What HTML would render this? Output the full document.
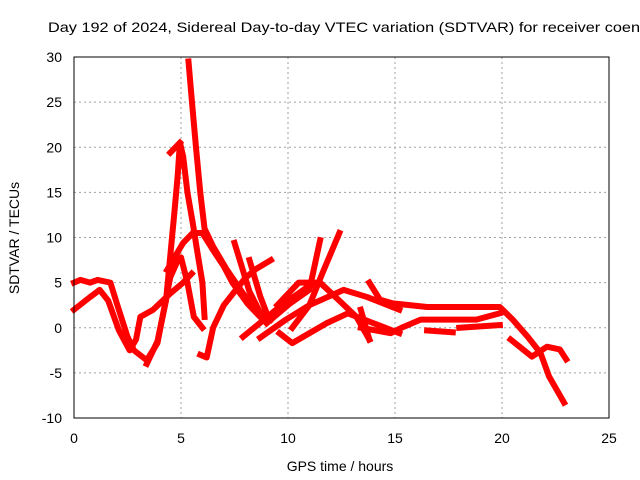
<!DOCTYPE html>
<html><head><meta charset="utf-8"><style>
html,body{margin:0;padding:0;background:#fff;}
svg{display:block;font-family:"Liberation Sans",sans-serif;}
</style></head><body>
<svg id="chart" width="640" height="480" viewBox="0 0 640 480">
<text x="48" y="32" font-size="14" fill="#000" textLength="592" lengthAdjust="spacingAndGlyphs">Day 192 of 2024, Sidereal Day-to-day VTEC variation (SDTVAR) for receiver coen</text>
<g id="grid"></g>
<g id="series"></g>
<rect x="74" y="57" width="535" height="361" fill="none" stroke="#000" stroke-width="1"/>
<g id="ticks"></g>
<text x="340" y="471" font-size="14" text-anchor="middle">GPS time / hours</text>
<text transform="translate(19,238) rotate(-90)" font-size="14" text-anchor="middle">SDTVAR / TECUs</text>
</svg>
<script>
const xTicks=[0,5,10,15,20,25];
const yTicks=[-10,-5,0,5,10,15,20,25,30];
const track1T=[5.35,5.55,5.7,5.9,6.1,6.5,7.15,7.9,8.5,9.2];
const track1V=[29.5,24,20,15,11,9,6.4,3.8,2,0.9];
const track2T=[3.4,3.9,4.3,4.5,4.7,4.85,4.95,5.1,5.3,5.55,5.75,6.0,6.1];
const track2V=[-4,-1.5,3,8,13,17,20.5,19,15,11.6,8.6,5,1.2];
const track3T=[4.5,4.95];
const track3V=[19.4,20.5];
const track4T=[5.9,6.2,6.5,7.0,7.5,8.0,8.5,9.2];
const track4V=[-3,-3.3,0,2.5,4,5.5,6.5,7.5];
const track5T=[4.35,5.1,5.55,6.0,6.5,7.0,7.4,8.1,8.7,9.2];
const track5V=[6.4,9.4,10.5,10.5,8.6,6.8,5,2.7,1.2,1];
const track6T=[0,0.3,0.75,1.1,1.7,2.0,2.5,2.8,3.4,3.9,4.2,4.5,4.8,5.0,5.3,5.6,6.0];
const track6V=[5,5.3,5,5.3,5,2.7,-1,-2.5,-3.6,-1.7,2,5.6,7.2,7.8,5,1.2,0];
const track7T=[0,0.75,1.2,1.6,2.1,2.6,2.9,3.1,3.7,4.5,5.1,5.5];
const track7V=[2,3.4,4.2,3,-0.3,-2.5,-1.3,1.2,2,3.8,5,6];
const track8T=[7.5,8.2,8.8,9.0];
const track8V=[9.4,4,1.2,0.9];
const track9T=[8.2,8.7,9.1];
const track9V=[7.5,3.5,1];
const track10T=[9.0,10.1,11.0,11.5];
const track10V=[0.5,2.7,4.2,9.7];
const track11T=[10.2,11.0,11.6,12.4];
const track11V=[0,2.5,6,10.5];
const track12T=[9.5,10.5,11.5,12.4,13.2,13.8];
const track12V=[2.5,5,5,3,1.2,-1.3];
const track13T=[7.9,9.6,10.9,11.5];
const track13V=[-1,2.3,4.5,5];
const track14T=[8.7,9.9,11.0,12.6,13.7,15.2];
const track14V=[-1.1,0.9,2.5,4.2,3.4,2];
const track15T=[9.6,10.2,11.8,12.8,14.0,15.2];
const track15V=[-0.6,-1.7,0.5,1.6,0.5,-0.6];
const track16T=[13.8,14.3,14.9,16.5,18,19.9,20.5,21.2,21.8,22.2,22.9];
const track16V=[5,3.1,2.7,2.3,2.3,2.3,0.9,-1,-2.8,-5.4,-8.3];
const track17T=[13.4,13.8];
const track17V=[2,-1.3];
const track18T=[13.4,14.8,15.4,16.2,17.2,18.8,19.9];
const track18V=[0,-0.6,0.1,0.9,0.9,0.9,1.6];
const track19T=[16.5,17.7];
const track19V=[-0.3,-0.5];
const track20T=[18,19.9];
const track20V=[0,0.3];
const track21T=[20.4,21.4,22.1,22.7,23];
const track21V=[-1.3,-3.2,-2.1,-2.4,-3.5];
const tracks=[[track1T,track1V],[track2T,track2V],[track3T,track3V],[track4T,track4V],[track5T,track5V],[track6T,track6V],[track7T,track7V],[track8T,track8V],[track9T,track9V],[track10T,track10V],[track11T,track11V],[track12T,track12V],[track13T,track13V],[track14T,track14V],[track15T,track15V],[track16T,track16V],[track17T,track17V],[track18T,track18V],[track19T,track19V],[track20T,track20V],[track21T,track21V]];
const NS="http://www.w3.org/2000/svg";
const X0=74,X1=609,Y0=418,Y1=57;
function xs(t){return X0+(t-0)/(25-0)*(X1-X0);}
function ys(v){return Y0-(v+10)/(40)*(Y0-Y1);}
const grid=document.getElementById('grid'),ticks=document.getElementById('ticks'),series=document.getElementById('series');
xTicks.forEach(t=>{
  const x=xs(t);
  if(t>0&&t<25){const g=document.createElementNS(NS,'line');
  g.setAttribute('x1',x);g.setAttribute('x2',x);g.setAttribute('y1',Y1);g.setAttribute('y2',Y0);
  g.setAttribute('stroke','#a0a0a0');g.setAttribute('stroke-dasharray','2,3');
  
  
  grid.appendChild(g);}
  const l=document.createElementNS(NS,'text');
  l.setAttribute('x',x);l.setAttribute('y',443);l.setAttribute('font-size','14');l.setAttribute('text-anchor','middle');
  l.textContent=t;
  
  
  ticks.appendChild(l);
});
yTicks.forEach(v=>{
  const y=ys(v);
  if(v>-10&&v<30){const g=document.createElementNS(NS,'line');
  g.setAttribute('x1',X0);g.setAttribute('x2',X1);g.setAttribute('y1',y);g.setAttribute('y2',y);
  g.setAttribute('stroke','#a0a0a0');g.setAttribute('stroke-dasharray','2,3');
  
  
  grid.appendChild(g);}
  const l=document.createElementNS(NS,'text');
  l.setAttribute('x',62);l.setAttribute('y',y+5);l.setAttribute('font-size','14');l.setAttribute('text-anchor','end');
  l.textContent=v;
  
  
  ticks.appendChild(l);
});
tracks.forEach((tr,i)=>{
  const pts=tr[0].map((t,j)=>xs(t)+','+ys(tr[1][j])).join(' ');
  const p=document.createElementNS(NS,'polyline');
  p.setAttribute('points',pts);p.setAttribute('fill','none');p.setAttribute('stroke','#ff0000');
  p.setAttribute('stroke-width','6');p.setAttribute('stroke-linejoin','round');p.setAttribute('stroke-linecap','square');
  
  
  series.appendChild(p);
});
</script>
</body></html>
